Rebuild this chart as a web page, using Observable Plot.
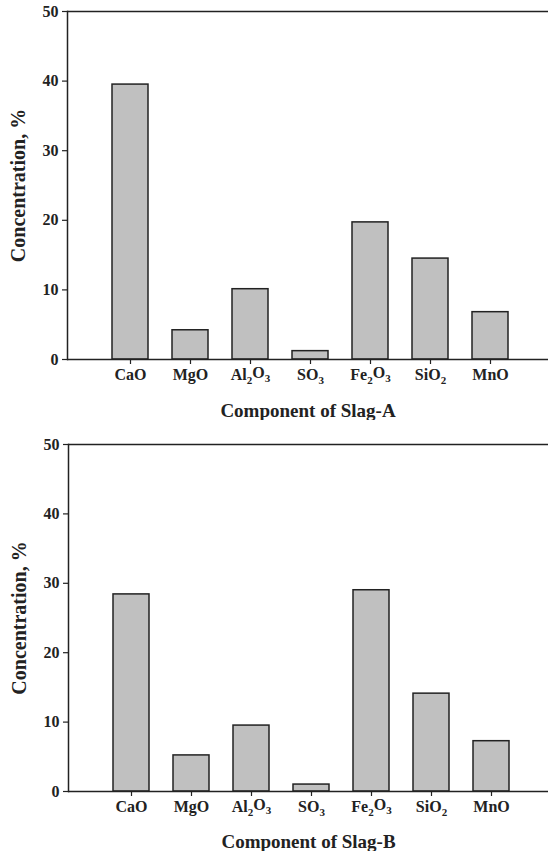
<!DOCTYPE html>
<html><head><meta charset="utf-8">
<script src="https://cdn.jsdelivr.net/npm/d3@7"></script>
<script src="https://cdn.jsdelivr.net/npm/@observablehq/plot@0.6"></script>
<style>
body{margin:0;background:#fff;}
#c{width:548px;}
svg{display:block;}
</style>
</head><body><div id="c"></div>
<script>
const components = ["CaO","MgO","Al2O3","SO3","Fe2O3","SiO2","MnO"];
const slagA = [39.5, 4.2, 10.1, 1.2, 19.7, 14.5, 6.8];
const slagB = [28.4, 5.2, 9.5, 1.0, 29.0, 14.1, 7.25];
const yTicks = [0,10,20,30,40,50];

function panel(values, title, opts){
  const data = components.map((c,i)=>({c, v: values[i]}));
  const ink = "#222";
  const font = "'Liberation Serif', 'Times New Roman', serif";
  const p = Plot.plot({
    width: 548, height: opts.height,
    marginLeft: opts.ml, marginRight: 0, marginTop: opts.mt, marginBottom: opts.mb,
    style: {fontFamily: font, fontWeight: "bold", fontSize: "16px", color: ink, background: "#fff"},
    x: {domain: components, paddingInner: 0.4, paddingOuter: 0.675, align: 0.53},
    y: {domain: [0, 50]},
    marks: [
      Plot.barY(data, {x: "c", y: "v", fill: "#c0c0c0", stroke: ink, strokeWidth: 1.5}),
      Plot.ruleY([0, 50], {stroke: ink, strokeWidth: 1.5}),
      Plot.frame({anchor: "left", stroke: ink, strokeWidth: 1.5}),
      Plot.axisY({ticks: yTicks, tickSize: 5, tickPadding: 4, strokeWidth: 1.2, fontSize: 16, fontWeight: "bold",
        label: "Concentration, %", labelAnchor: "center", labelArrow: "none", labelOffset: 57}),
      Plot.axisX({tickSize: 5, tickPadding: 4, strokeWidth: 1.2, fontSize: 16, fontWeight: "bold",
        label: title, labelAnchor: "center", labelArrow: "none", labelOffset: opts.mb - 4})
    ]
  });
  d3.select(p).selectAll('g[aria-label="y-axis label"] text')
    .style("font-size", "20px").attr("font-size", "20");
  d3.select(p).selectAll('g[aria-label="x-axis label"] text')
    .style("font-size", "19px").attr("font-size", "19");
  d3.select(p).selectAll('g[aria-label="x-axis tick label"] text').each(function(){
    const t = d3.select(this);
    const s = t.text();
    if (!/\d/.test(s)) return;
    t.text(null);
    const parts = s.match(/[A-Za-z]+|\d+/g);
    let shifted = false;
    parts.forEach(part => {
      const sp = t.append("tspan").text(part);
      if (/\d/.test(part)) {
        sp.attr("dy", "0.35em").attr("font-size", "11").style("font-size", "11px");
        shifted = true;
      } else if (shifted) {
        sp.attr("dy", "-0.35em");
        shifted = false;
      }
    });
  });
  return p;
}

const c = document.getElementById("c");
c.appendChild(panel(slagA, "Component of Slag-A", {height: 420, mt: 11, mb: 61, ml: 67}));
c.appendChild(panel(slagB, "Component of Slag-B", {height: 431, mt: 24, mb: 60, ml: 68}));
</script>
</body></html>
